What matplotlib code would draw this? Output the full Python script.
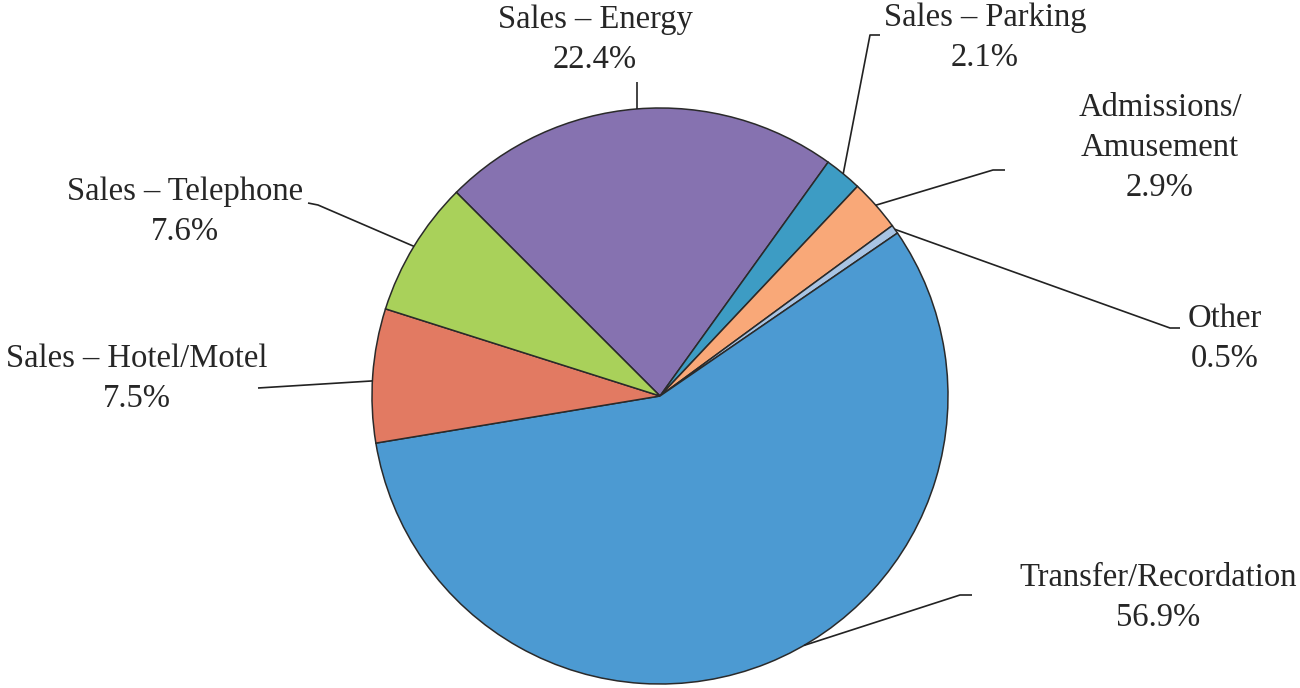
import numpy as np
import matplotlib.pyplot as plt

labels = ['Sales – Energy', 'Sales – Parking', 'Admissions/\nAmusement', 'Other',
          'Transfer/Recordation', 'Sales – Hotel/Motel', 'Sales – Telephone']
shares = [22.4, 2.1, 2.9, 0.5, 56.9, 7.5, 7.6]
colors = ['#8672b0', '#3d9cc4', '#f9a878', '#a8c4e4', '#4c9ad2', '#e27a62', '#a9d15a']

# label text position (pixels), elbow of leader line, anchor angle override
label_pos = [(595, 40), (985, 38), (1160, 148), (1225, 339),
             (1158, 598), (137, 379), (185, 212)]
elbows = [(633, 82), [(880, 35), (870, 35)], [(1005, 170), (993, 170)],
          [(1180, 328), (1170, 328)], [(972, 595), (960, 595)],
          [(258, 388)], [(308, 203), (318, 205)]]
anchor_angle = [None, None, None, None, -60.0, 177.0, None]

H = 688
cx, cy, r = 660, H - 396, 288

plt.rcParams['font.family'] = ['Liberation Serif', 'DejaVu Serif']
fig = plt.figure(figsize=(13, 6.88), dpi=100)
ax = fig.add_axes([0, 0, 1, 1])

wedges, _ = ax.pie(shares, colors=colors, startangle=135, counterclock=False,
                   center=(cx, cy), radius=r, frame=True,
                   wedgeprops=dict(edgecolor='#2a2a2a', linewidth=1.1))
ax.set_xlim(0, 1300)
ax.set_ylim(0, H)
ax.set_aspect('equal')
ax.axis('off')

for i, w in enumerate(wedges):
    ang = anchor_angle[i]
    if ang is None:
        ang = (w.theta1 + w.theta2) / 2
    ax0 = cx + r * np.cos(np.radians(ang))
    ay0 = cy + r * np.sin(np.radians(ang))
    el = elbows[i]
    if i == 0:
        pts = [(ax0, ay0), (ax0, H - el[1])]
    else:
        pts = [(ax0, ay0)] + [(x, H - y) for x, y in reversed(el)]
    xs, ys = zip(*pts)
    ax.plot(xs, ys, color='#222222', lw=1.2, solid_capstyle='butt')
    tx, ty = label_pos[i]
    ax.text(tx, H - ty, f'{labels[i]}\n{shares[i]:.1f}%', ha='center', va='center',
            fontsize=23.5, color='#262626', linespacing=1.4)

fig.savefig('out.png', dpi=100)
